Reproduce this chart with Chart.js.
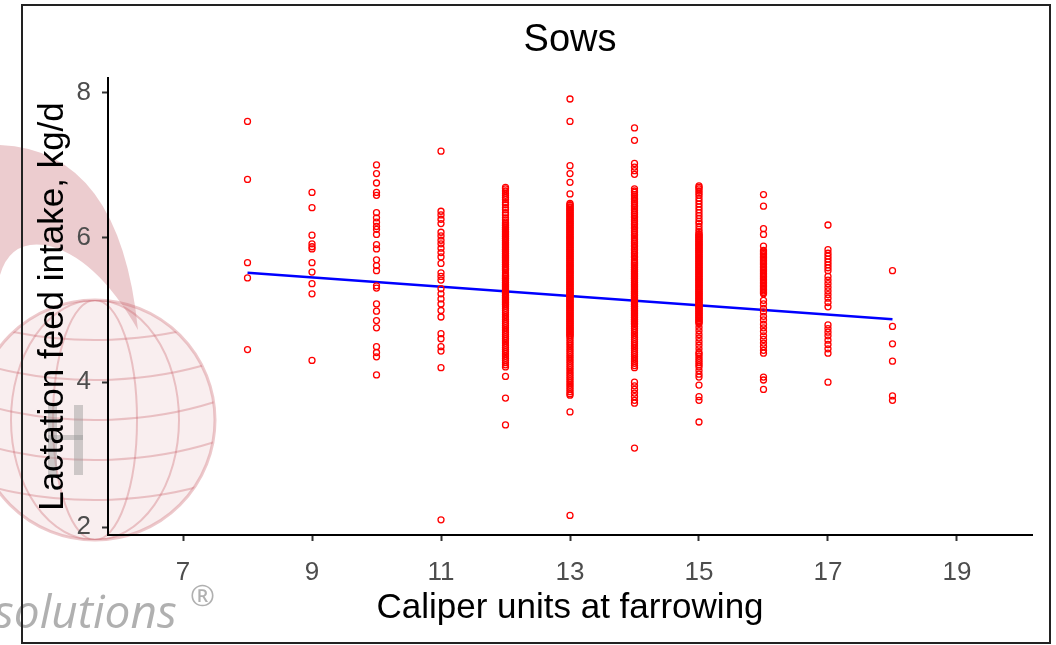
<!DOCTYPE html>
<html>
<head>
<meta charset="utf-8">
<title>Sows</title>
<script src="https://cdn.jsdelivr.net/npm/chart.js@4.4.1/dist/chart.umd.min.js"></script>
<style>
    html, body { margin: 0; padding: 0; background: #fff; }
    #wrap { width: 1056px; height: 645px; }
</style>
</head>
<body>
<div id="wrap"><canvas id="sowsChart" width="1056" height="645"></canvas></div>
<script>
// caliper units on the x axis, one column of sows per unit
const caliperUnits = [8, 9, 10, 11, 12, 13, 14, 15, 16, 17, 18];
const xTicks = [7, 9, 11, 13, 15, 17, 19];
const yTicks = [2, 4, 6, 8];
const chartTitle = 'Sows';

// lactation feed intake (kg/d)
const intake8 = [7.60, 6.80, 5.65, 5.44, 4.45];
const intake9 = [6.62, 6.41, 6.03, 5.91, 5.87, 5.84, 5.65, 5.52, 5.36, 5.22, 4.30];
const intake10 = [7.00, 6.88, 6.75, 6.62, 6.58, 6.34, 6.27, 6.21, 6.15, 6.11, 6.04, 5.90, 5.84,
    5.69, 5.61, 5.54, 5.33, 5.30, 5.08, 4.98, 4.85, 4.75, 4.49, 4.41, 4.35, 4.10];
const intake11 = [7.19, 6.36, 6.31, 6.25, 6.19, 6.07, 6.02, 5.96, 5.91, 5.85, 5.79, 5.73, 5.64,
    5.51, 5.46, 5.41, 5.29, 5.22, 5.15, 5.08, 4.99, 4.90, 4.67, 4.60, 4.49, 4.43, 4.20, 2.10];
const intake12 = [6.69, 6.67, 6.64, 6.61, 6.58, 6.55, 6.52, 6.48, 6.45, 6.41, 6.38, 6.34, 6.31,
    6.27, 6.24, 6.21, 6.19, 6.17, 6.16, 6.14, 6.13, 6.11, 6.10, 6.08, 6.07, 6.05, 6.04, 6.02, 6.01,
    5.99, 5.98, 5.96, 5.95, 5.93, 5.92, 5.90, 5.89, 5.87, 5.86, 5.84, 5.83, 5.81, 5.80, 5.78, 5.77,
    5.75, 5.74, 5.72, 5.71, 5.69, 5.68, 5.66, 5.65, 5.63, 5.62, 5.60, 5.59, 5.57, 5.56, 5.54, 5.51,
    5.49, 5.47, 5.46, 5.44, 5.43, 5.41, 5.40, 5.38, 5.37, 5.35, 5.34, 5.32, 5.31, 5.29, 5.28, 5.26,
    5.25, 5.23, 5.22, 5.20, 5.19, 5.17, 5.16, 5.14, 5.13, 5.11, 5.10, 5.08, 5.07, 5.05, 5.02, 4.99,
    4.96, 4.93, 4.90, 4.87, 4.84, 4.81, 4.78, 4.75, 4.72, 4.69, 4.66, 4.63, 4.60, 4.57, 4.54, 4.51,
    4.48, 4.45, 4.42, 4.39, 4.36, 4.33, 4.30, 4.27, 4.24, 4.21, 4.08, 3.78, 3.41];
const intake13 = [7.91, 7.60, 6.99, 6.88, 6.76, 6.60, 6.47, 6.45, 6.44, 6.42, 6.41, 6.39, 6.38,
    6.36, 6.35, 6.33, 6.32, 6.30, 6.29, 6.27, 6.26, 6.24, 6.23, 6.21, 6.20, 6.18, 6.17, 6.15, 6.14,
    6.12, 6.11, 6.09, 6.08, 6.06, 6.05, 6.03, 6.02, 6.00, 5.99, 5.97, 5.96, 5.94, 5.93, 5.91, 5.90,
    5.88, 5.87, 5.85, 5.84, 5.82, 5.81, 5.79, 5.78, 5.76, 5.75, 5.73, 5.72, 5.70, 5.69, 5.67, 5.66,
    5.64, 5.63, 5.61, 5.60, 5.58, 5.57, 5.55, 5.54, 5.52, 5.51, 5.49, 5.48, 5.46, 5.45, 5.43, 5.42,
    5.40, 5.39, 5.37, 5.36, 5.34, 5.33, 5.31, 5.30, 5.28, 5.27, 5.25, 5.24, 5.22, 5.21, 5.19, 5.18,
    5.16, 5.15, 5.13, 5.12, 5.10, 5.09, 5.07, 5.06, 5.04, 5.03, 5.01, 5.00, 4.98, 4.97, 4.95, 4.94,
    4.92, 4.91, 4.89, 4.88, 4.86, 4.85, 4.83, 4.82, 4.80, 4.79, 4.77, 4.76, 4.74, 4.73, 4.71, 4.70,
    4.68, 4.67, 4.65, 4.64, 4.62, 4.59, 4.56, 4.53, 4.50, 4.47, 4.44, 4.41, 4.38, 4.35, 4.32, 4.29,
    4.26, 4.23, 4.20, 4.17, 4.14, 4.11, 4.08, 4.05, 4.02, 3.99, 3.96, 3.93, 3.90, 3.87, 3.84, 3.82,
    3.59, 2.16];
const intake14 = [7.51, 7.34, 7.02, 6.97, 6.92, 6.87, 6.67, 6.64, 6.62, 6.59, 6.57, 6.54, 6.52,
    6.49, 6.47, 6.44, 6.42, 6.39, 6.37, 6.34, 6.32, 6.29, 6.27, 6.24, 6.22, 6.19, 6.17, 6.14, 6.12,
    6.09, 6.07, 6.04, 6.02, 5.99, 5.97, 5.94, 5.92, 5.89, 5.87, 5.84, 5.82, 5.79, 5.77, 5.74, 5.72,
    5.69, 5.67, 5.65, 5.64, 5.62, 5.61, 5.59, 5.58, 5.56, 5.55, 5.53, 5.52, 5.50, 5.49, 5.47, 5.46,
    5.44, 5.43, 5.41, 5.40, 5.38, 5.37, 5.35, 5.34, 5.32, 5.31, 5.29, 5.28, 5.26, 5.25, 5.23, 5.22,
    5.20, 5.19, 5.17, 5.16, 5.14, 5.13, 5.11, 5.10, 5.08, 5.07, 5.05, 5.04, 5.02, 5.01, 4.99, 4.98,
    4.96, 4.95, 4.93, 4.92, 4.90, 4.89, 4.87, 4.86, 4.84, 4.83, 4.81, 4.80, 4.77, 4.74, 4.71, 4.68,
    4.65, 4.62, 4.59, 4.56, 4.53, 4.50, 4.47, 4.44, 4.41, 4.38, 4.35, 4.32, 4.29, 4.26, 4.23, 4.20,
    4.00, 3.95, 3.90, 3.85, 3.80, 3.75, 3.71, 3.09];
const intake15 = [6.71, 6.69, 6.67, 6.64, 6.61, 6.58, 6.54, 6.50, 6.46, 6.42, 6.38, 6.34, 6.30,
    6.26, 6.22, 6.19, 6.15, 6.11, 6.08, 6.05, 6.04, 6.02, 6.01, 5.99, 5.98, 5.96, 5.95, 5.93, 5.92,
    5.90, 5.89, 5.87, 5.86, 5.84, 5.83, 5.81, 5.80, 5.78, 5.77, 5.75, 5.74, 5.72, 5.71, 5.69, 5.68,
    5.66, 5.65, 5.63, 5.62, 5.60, 5.59, 5.57, 5.56, 5.54, 5.53, 5.51, 5.50, 5.48, 5.47, 5.45, 5.44,
    5.42, 5.41, 5.39, 5.38, 5.36, 5.35, 5.33, 5.32, 5.30, 5.29, 5.27, 5.26, 5.24, 5.23, 5.21, 5.20,
    5.18, 5.17, 5.15, 5.14, 5.12, 5.11, 5.09, 5.08, 5.06, 5.05, 5.03, 5.02, 5.00, 4.99, 4.97, 4.96,
    4.94, 4.93, 4.91, 4.90, 4.88, 4.87, 4.85, 4.84, 4.82, 4.81, 4.76, 4.71, 4.66, 4.61, 4.56, 4.51,
    4.46, 4.41, 4.39, 4.36, 4.33, 4.30, 4.27, 4.24, 4.21, 4.16, 4.11, 4.07, 3.96, 3.80, 3.75, 3.45];
const intake16 = [6.59, 6.43, 6.12, 6.04, 5.88, 5.82, 5.80, 5.78, 5.76, 5.74, 5.72, 5.70, 5.68,
    5.66, 5.64, 5.62, 5.60, 5.58, 5.56, 5.54, 5.52, 5.50, 5.48, 5.46, 5.44, 5.42, 5.40, 5.38, 5.36,
    5.34, 5.32, 5.30, 5.28, 5.26, 5.24, 5.22, 5.13, 5.08, 5.02, 4.97, 4.91, 4.86, 4.80, 4.75, 4.70,
    4.64, 4.59, 4.54, 4.49, 4.44, 4.40, 4.07, 4.03, 3.90];
const intake17 = [6.17, 5.83, 5.78, 5.74, 5.70, 5.66, 5.62, 5.58, 5.54, 5.46, 5.41, 5.36, 5.31,
    5.26, 5.21, 5.16, 5.10, 5.04, 4.79, 4.74, 4.69, 4.64, 4.58, 4.52, 4.46, 4.40, 4.00];
const intake18 = [5.54, 4.77, 4.53, 4.29, 3.81, 3.75];

// fitted line, from first to last caliper unit
const fitX = [8, 18];
const fitY = [5.51, 4.87];

const intakeColumns = [intake8, intake9, intake10, intake11, intake12, intake13,
    intake14, intake15, intake16, intake17, intake18];

const scatterPoints = caliperUnits.flatMap((c, i) => intakeColumns[i].map(v => ({ x: c, y: v })));
const fitPoints = fitX.map((x, i) => ({ x: x, y: fitY[i] }));

const FONT = '"Liberation Sans", Arial, sans-serif';

// white page, the faded logo behind the chart and the frame round it
const backdrop = {
    id: 'backdrop',
    beforeDraw(chart) {
        const ctx = chart.ctx;
        ctx.save();
        ctx.fillStyle = '#fff';
        ctx.fillRect(0, 0, chart.width, chart.height);

        // beak like swoosh
        ctx.fillStyle = 'rgba(205, 120, 128, 0.38)';
        ctx.beginPath();
        ctx.moveTo(0, 145);
        ctx.quadraticCurveTo(120, 150, 138, 330);
        ctx.quadraticCurveTo(95, 255, 45, 245);
        ctx.quadraticCurveTo(10, 240, 0, 275);
        ctx.closePath();
        ctx.fill();

        // globe
        const cx = 95, cy = 420, r = 120;
        ctx.strokeStyle = 'rgba(200, 90, 100, 0.33)';
        ctx.lineWidth = 3;
        ctx.beginPath();
        ctx.arc(cx, cy, r, 0, Math.PI * 2);
        ctx.stroke();
        ctx.save();
        ctx.beginPath();
        ctx.arc(cx, cy, r, 0, Math.PI * 2);
        ctx.clip();
        ctx.lineWidth = 2;
        [-80, -40, 0, 40, 80].forEach(dy => {
            ctx.beginPath();
            ctx.ellipse(cx, cy + dy - 160, 260, 160, 0, 0.1 * Math.PI, 0.9 * Math.PI);
            ctx.stroke();
        });
        [0.35, 0.7].forEach(k => {
            ctx.beginPath();
            ctx.ellipse(cx, cy, r * k, r, 0, 0, Math.PI * 2);
            ctx.stroke();
        });
        ctx.fillStyle = 'rgba(205, 120, 128, 0.13)';
        ctx.fillRect(cx - r, cy - r, 2 * r, 2 * r);
        ctx.restore();

        // grey H mark
        ctx.fillStyle = 'rgba(150, 150, 150, 0.45)';
        ctx.fillRect(48, 405, 9, 70);
        ctx.fillRect(74, 405, 9, 70);
        ctx.fillRect(48, 435, 35, 5);

        // brand text
        ctx.fillStyle = 'rgba(150, 150, 150, 0.75)';
        ctx.font = 'italic 46px "Open Sans"';
        ctx.textBaseline = 'alphabetic';
        ctx.fillText('solutions', -6, 628);
        ctx.font = '30px "Open Sans"';
        ctx.fillText('\u00ae', 190, 606);

        // frame
        ctx.strokeStyle = '#222';
        ctx.lineWidth = 2;
        ctx.strokeRect(22, 5, 1028, 638);
        ctx.restore();
    },
    afterDraw(chart) {
        // title centred over the panel, like ggplot does
        const ctx = chart.ctx;
        const area = chart.chartArea;
        ctx.save();
        ctx.fillStyle = '#000';
        ctx.font = '38px ' + FONT;
        ctx.textAlign = 'center';
        ctx.textBaseline = 'middle';
        ctx.fillText(chartTitle, (area.left + area.right) / 2, 41);
        ctx.restore();
    }
};

const ctx = document.getElementById('sowsChart').getContext('2d');

const sowsChart = new Chart(ctx, {
    type: 'scatter',
    data: {
        datasets: [{
            label: 'Sows',
            data: scatterPoints,
            pointStyle: 'circle',
            pointRadius: 3,
            borderColor: '#ff0000',
            borderWidth: 1.3,
            backgroundColor: 'rgba(0,0,0,0)'
        }, {
            type: 'line',
            label: 'Fit',
            data: fitPoints,
            borderColor: '#0000ff',
            borderWidth: 2.5,
            pointRadius: 0,
            fill: false
        }]
    },
    options: {
        responsive: false,
        animation: false,
        devicePixelRatio: 1,
        layout: { padding: { left: 0, right: 24, top: 78, bottom: 0 } },
        plugins: {
            legend: { display: false },
            tooltip: { enabled: false },
            title: { display: false }
        },
        scales: {
            x: {
                type: 'linear',
                min: 5.837,
                max: 20.163,
                afterBuildTicks: s => { s.ticks = xTicks.map(v => ({ value: v })); },
                afterFit: s => { s.height = 110; },
                border: { display: true, color: '#000', width: 2 },
                grid: { display: true, drawOnChartArea: false, drawTicks: true, tickLength: 6, tickColor: '#333', tickWidth: 2 },
                ticks: {
                    color: '#4d4d4d',
                    padding: 16,
                    font: { family: FONT, size: 26 }
                },
                title: {
                    display: true,
                    text: 'Caliper units at farrowing',
                    color: '#000',
                    font: { family: FONT, size: 35 },
                    padding: { top: 0, bottom: 16 }
                }
            },
            y: {
                type: 'linear',
                min: 1.89,
                max: 8.20,
                afterBuildTicks: s => { s.ticks = yTicks.map(v => ({ value: v })); },
                afterFit: s => { s.width = 108; },
                border: { display: true, color: '#000', width: 2 },
                grid: { display: true, drawOnChartArea: false, drawTicks: true, tickLength: 6, tickColor: '#333', tickWidth: 2 },
                ticks: {
                    color: '#4d4d4d',
                    padding: 11,
                    font: { family: FONT, size: 26 }
                },
                title: {
                    display: true,
                    text: 'Lactation feed intake, kg/d',
                    color: '#000',
                    font: { family: FONT, size: 35 },
                    padding: { top: 32, bottom: 0 }
                }
            }
        }
    },
    plugins: [backdrop]
});
</script>
</body>
</html>
